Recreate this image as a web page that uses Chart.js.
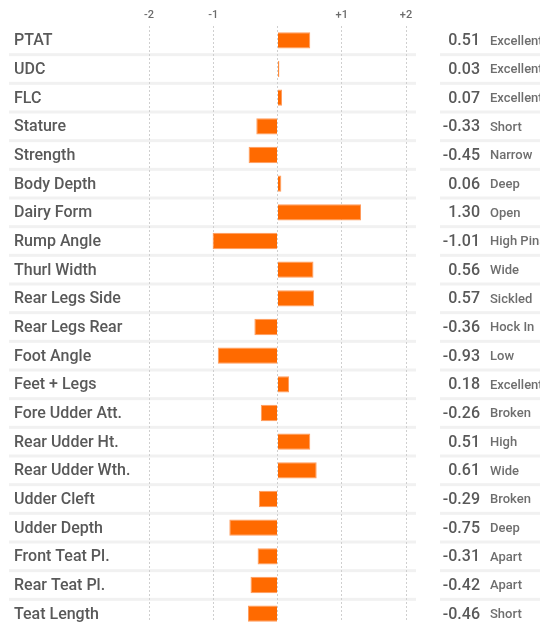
<!DOCTYPE html>
<html>
<head>
<meta charset="utf-8">
<title>Linear traits</title>
<script src="https://cdn.jsdelivr.net/npm/chart.js@4"></script>
<style>
  html, body { margin: 0; padding: 0; background: #fff; overflow: hidden; }
  canvas { display: block; }
</style>
</head>
<body>
<canvas id="traitChart" width="540" height="622"></canvas>
<script>
const traits = ['PTAT', 'UDC', 'FLC', 'Stature', 'Strength', 'Body Depth', 'Dairy Form',
  'Rump Angle', 'Thurl Width', 'Rear Legs Side', 'Rear Legs Rear', 'Foot Angle',
  'Feet + Legs', 'Fore Udder Att.', 'Rear Udder Ht.', 'Rear Udder Wth.', 'Udder Cleft',
  'Udder Depth', 'Front Teat Pl.', 'Rear Teat Pl.', 'Teat Length'];
const scores = [0.51, 0.03, 0.07, -0.33, -0.45, 0.06, 1.30, -1.01, 0.56, 0.57, -0.36,
  -0.93, 0.18, -0.26, 0.51, 0.61, -0.29, -0.75, -0.31, -0.42, -0.46];
const descriptions = ['Excellent', 'Excellent', 'Excellent', 'Short', 'Narrow', 'Deep', 'Open',
  'High Pins', 'Wide', 'Sickled', 'Hock In', 'Low', 'Excellent', 'Broken', 'High', 'Wide',
  'Broken', 'Deep', 'Apart', 'Apart', 'Short'];
const tickValues = [-2, -1, 0, 1, 2];
const tickLabels = ['-2', '-1', '', '+1', '+2'];

const FONT = 'Roboto, "Liberation Sans", sans-serif';

// the last row runs a few px past the lower edge, like the source image
const overhang = {
  id: 'overhang',
  afterLayout(chart) {
    const y = chart.scales.y;
    chart.chartArea.bottom += 6;
    chart.chartArea.height += 6;
    y.bottom += 6;
    y.height += 6;
    y.configure();
  }
};

// light bands between rows, drawn under the grid
const rowBands = {
  id: 'rowBands',
  beforeDraw(chart) {
    const { ctx, chartArea, scales: { y } } = chart;
    ctx.save();
    ctx.fillStyle = '#f1f1f1';
    for (let i = 0; i < traits.length - 1; i++) {
      const yy = (y.getPixelForTick(i) + y.getPixelForTick(i + 1)) / 2;
      ctx.fillRect(9, yy - 1.5, chartArea.right + 10 - 9, 3);
      ctx.fillRect(chartArea.right + 34, yy - 1.5, chart.width - chartArea.right - 34, 3);
    }
    ctx.restore();
  }
};

// value + description column on the right
const valueColumn = {
  id: 'valueColumn',
  afterDatasetsDraw(chart) {
    const { ctx, chartArea, scales: { y } } = chart;
    ctx.save();
    ctx.textBaseline = 'middle';
    scores.forEach((v, i) => {
      const yy = y.getPixelForTick(i);
      ctx.fillStyle = '#595959';
      ctx.font = '500 16px ' + FONT;
      ctx.textAlign = 'right';
      ctx.fillText(v.toFixed(2), chartArea.right + 74, yy + 1);
      ctx.fillStyle = '#6e6e6e';
      ctx.font = '500 13px ' + FONT;
      ctx.textAlign = 'left';
      ctx.fillText(descriptions[i], chartArea.right + 84, yy + 1);
    });
    ctx.restore();
  }
};

new Chart(document.getElementById('traitChart'), {
  type: 'bar',
  data: {
    labels: traits,
    datasets: [{
      data: scores,
      backgroundColor: '#ff6a00',
      borderColor: '#ff9c5e',
      borderWidth: 1,
      barPercentage: 0.57,
      categoryPercentage: 1
    }]
  },
  options: {
    indexAxis: 'y',
    responsive: false,
    animation: false,
    layout: { padding: { left: 14, right: 134, top: 0, bottom: 0 } },
    plugins: { legend: { display: false }, tooltip: { enabled: false } },
    scales: {
      x: {
        position: 'top',
        min: -2,
        max: 2,
        afterBuildTicks: (scale) => { scale.ticks = tickValues.map((v) => ({ value: v })); },
        afterFit: (scale) => { scale.height = 26; },
        ticks: {
          padding: 4,
          color: '#6b6b6b',
          font: { family: FONT, size: 11, weight: '500' },
          callback: (value, index) => tickLabels[index]
        },
        grid: { color: '#cfcfcf', lineWidth: 1, drawTicks: false },
        border: { display: false, dash: [2, 2] }
      },
      y: {
        afterFit: (scale) => {
          scale.width = 135;
          // no extra room for half-labels at the ends
          scale.paddingTop = 0;
          scale.paddingBottom = 0;
        },
        ticks: {
          crossAlign: 'far',
          padding: 0,
          labelOffset: 1,
          color: '#595959',
          font: { family: FONT, size: 16, weight: '500' }
        },
        grid: { display: false },
        border: { display: false }
      }
    }
  },
  plugins: [overhang, rowBands, valueColumn]
});
</script>
</body>
</html>
